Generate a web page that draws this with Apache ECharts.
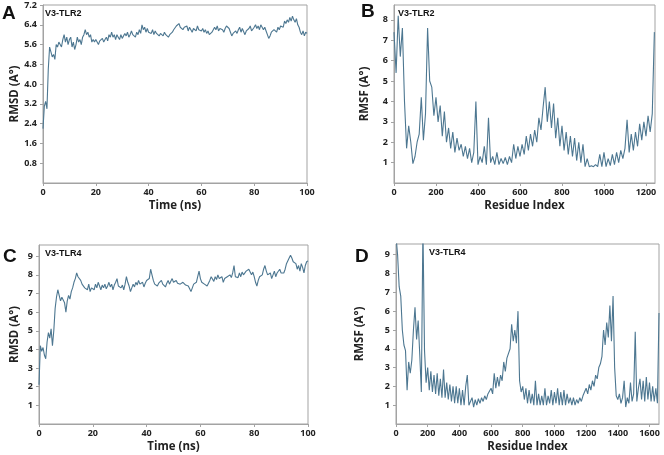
<!DOCTYPE html>
<html>
<head>
<meta charset="utf-8">
<script src="https://cdn.jsdelivr.net/npm/echarts@6/dist/echarts.min.js"></script>
<style>
  html, body { margin: 0; padding: 0; background: #fff; }
  #chart { width: 664px; height: 455px; }
</style>
</head>
<body>
<div id="chart"></div>
<script>
// RMSD time axis: one sample every 0.5 ns, 0..100 ns
var TIME_STEP = 0.5;
// RMSF residue axis: one sample every 10 residues
var RES_STEP = 10;

// A: V3-TLR2 RMSD (Å)
var rmsdTlr2 = [
  2.2, 3.1, 3.3, 3.0, 4.6, 5.5, 5.3, 5.1, 5.2, 5.0, 5.6, 5.5, 5.7, 5.6, 5.5, 5.8, 6.0, 5.7, 5.9, 5.6, 5.8,
  5.9, 5.5, 5.7, 5.4, 5.6, 5.9, 5.7, 5.8, 5.6, 5.9, 6.0, 6.2, 6.0, 6.1, 5.9, 6.0, 5.7, 5.8, 5.7, 5.8,
  5.8, 5.6, 5.75, 5.7, 5.85, 5.7, 5.8, 5.9, 5.75, 6.0, 5.9, 6.1, 5.9, 6.0, 5.8, 6.0, 5.9, 5.8, 6.0, 5.85,
  5.9, 6.05, 5.95, 6.1, 5.9, 6.0, 6.15, 6.0, 6.05, 5.9, 6.1, 6.0, 6.2, 6.05, 6.4, 6.2, 6.3, 6.1, 6.25, 6.1,
  6.15, 6.05, 6.2, 6.0, 6.15, 6.05, 6.1, 5.95, 6.05, 6.1, 5.95, 6.1, 6.0, 6.05, 5.9, 6.0, 5.95, 6.1, 6.2, 6.25,
  6.35, 6.3, 6.45, 6.3, 6.35, 6.2, 6.3, 6.25, 6.35, 6.15, 6.3, 6.2, 6.1, 6.25, 6.3, 6.15, 6.35, 6.2, 6.25, 6.15,
  6.25, 6.1, 6.2, 6.05, 6.15, 6.0, 5.95, 6.1, 6.15, 6.3, 6.2, 6.35, 6.15, 6.25, 6.3, 6.2, 6.1, 6.25, 6.35, 6.4,
  6.25, 6.1, 5.95, 6.05, 6.0, 6.15, 6.05, 6.2, 6.3, 6.1, 6.25, 6.2, 6.0, 6.15, 6.1, 6.25, 6.35, 6.15, 6.2, 6.3,
  6.4, 6.25, 6.35, 6.2, 6.4, 6.3, 6.2, 6.3, 6.15, 6.0, 5.85, 5.95, 6.1, 6.05, 6.2, 6.25, 6.1, 6.3, 6.2, 6.35,
  6.4, 6.3, 6.55, 6.45, 6.6, 6.5, 6.7, 6.55, 6.75, 6.6, 6.5, 6.65, 6.4, 6.3, 6.1, 6.0, 6.15, 5.95, 6.1, 6.05
];

// C: V3-TLR4 RMSD (Å)
var rmsdTlr4 = [
  2.1, 4.2, 3.9, 4.1, 3.7, 3.5, 4.4, 4.9, 4.6, 5.1, 4.2, 5.0, 6.2, 6.8, 7.2, 6.9, 6.6, 6.8, 6.7, 6.5, 6.0,
  6.6, 6.9, 6.7, 7.1, 7.3, 7.6, 7.8, 8.1, 7.9, 8.0, 7.7, 7.5, 7.6, 7.3, 7.4, 7.2, 7.5, 7.1, 7.3, 7.4,
  7.2, 7.5, 7.3, 7.6, 7.4, 7.2, 7.45, 7.3, 7.5, 7.25, 7.4, 7.6, 7.35, 7.5, 7.2, 7.45, 7.6, 7.8, 7.4, 7.5,
  7.3, 7.45, 7.2, 7.5, 7.9, 7.6, 7.4, 7.1, 7.3, 7.5, 7.35, 7.6, 7.45, 7.7, 7.5, 7.4, 7.6, 7.35, 7.55, 7.7,
  7.6, 7.8, 8.3, 8.0, 7.7, 7.5, 7.6, 7.4, 7.55, 7.45, 7.7, 7.5, 7.6, 7.35, 7.55, 7.7, 7.5, 7.65, 7.8, 7.6,
  7.5, 7.7, 7.55, 7.65, 7.5, 7.4, 7.6, 7.7, 7.45, 7.5, 7.4, 7.25, 7.1, 7.3, 7.5, 7.45, 7.6, 7.9, 8.2, 7.8,
  7.6, 7.7, 7.5, 7.6, 7.4, 7.55, 7.7, 7.9, 7.8, 7.65, 7.9, 7.75, 8.0, 7.8, 7.7, 7.9, 7.6, 7.8, 7.7, 7.9,
  7.8, 8.0, 7.85, 8.1, 8.5, 7.9, 8.0, 7.85, 8.1, 7.9, 8.15, 8.0, 7.9, 8.2, 8.1, 8.3, 8.2, 8.0, 8.15, 7.9,
  7.6, 7.4, 7.7, 7.9, 7.8, 8.0, 8.3, 8.5, 8.2, 8.0, 7.9, 8.1, 7.8, 8.0, 8.2, 7.9, 8.1, 8.0, 8.3, 8.1,
  8.2, 8.1, 8.3, 8.6, 8.5, 8.9, 9.05, 8.9, 8.7, 8.8, 8.6, 8.3, 8.5, 8.2, 8.6, 8.4, 8.1, 8.5, 8.7, 8.75
];

// B: V3-TLR2 RMSF (Å), residues 0..1240
var rmsfTlr2 = [
  7.4, 5.4, 8.2, 6.2, 7.6, 4.0, 1.7, 2.8, 2.0, 0.95,
  1.3, 2.0, 2.4, 4.2, 2.1, 3.4, 7.6, 5.0, 4.7, 3.3,
  4.2, 3.0, 3.8, 2.3, 3.5, 2.0, 2.7, 1.7, 2.5, 1.5,
  2.2, 1.6, 1.9, 1.3, 1.8, 1.2, 1.7, 1.0, 1.5, 4.0,
  0.9, 1.3, 1.0, 1.8, 0.9, 3.2, 1.0, 1.3, 0.9, 1.5,
  0.9, 1.2, 0.95, 1.25, 0.9, 1.3, 1.0, 1.9, 1.2, 1.8,
  1.3, 1.9, 1.4, 2.3, 1.6, 2.4, 1.8, 2.6, 2.0, 3.2,
  2.6, 3.7, 4.7, 3.0, 4.0, 2.7, 3.9, 2.2, 3.2, 1.8,
  2.8, 1.6, 2.5, 1.4, 2.3, 1.3, 2.2, 1.1, 2.0, 1.0,
  1.9, 0.8, 1.2, 0.8, 0.85, 0.8, 0.9, 0.8, 1.4, 0.8,
  1.5, 0.8, 1.2, 0.85, 1.4, 0.9, 1.5, 1.0, 1.6, 1.2,
  1.7, 3.1, 1.5, 2.4, 1.6, 2.5, 1.8, 2.9, 2.1, 3.0,
  2.3, 3.3, 2.5, 3.4, 7.4
];

// D: V3-TLR4 RMSF (Å), residues 0..1660
var rmsfTlr4 = [
  10.0, 9.0, 7.3, 6.8, 5.0, 4.2, 3.9, 1.8, 3.3, 2.7,
  3.4, 5.0, 6.2, 4.5, 5.5, 3.7, 1.7, 10.5, 3.9, 2.2,
  3.0, 1.8, 2.8, 1.7, 2.6, 1.6, 2.7, 1.5, 2.4, 1.4,
  2.9, 1.4, 2.2, 1.3, 2.1, 1.2, 2.0, 1.1, 2.0, 1.1,
  1.9, 1.0, 1.8, 1.0, 2.0, 2.6, 1.0, 0.9, 1.4, 0.9,
  1.3, 1.0, 1.35, 1.1, 1.4, 1.2, 1.5, 1.3, 1.6, 1.5,
  1.9, 1.6, 2.7, 1.9, 2.5, 2.0, 2.6, 2.3, 3.3, 2.8,
  3.5, 3.6, 4.0, 5.3, 4.4, 5.0, 4.3, 6.0, 2.3, 1.7,
  2.0, 1.3, 1.9, 1.1, 1.8, 1.1, 1.6, 1.0, 2.3, 1.0,
  1.6, 1.0, 1.5, 1.0, 1.9, 1.0, 1.5, 1.1, 1.8, 1.0,
  1.7, 1.1, 1.9, 1.0, 1.7, 1.0, 1.8, 1.0, 1.6, 1.1,
  1.4, 1.0, 1.4, 1.0, 1.3, 1.1, 1.4, 1.2, 1.5, 1.4,
  1.9, 1.6, 2.1, 1.8, 2.3, 2.0, 2.6, 2.4, 3.0, 3.2,
  3.6, 5.0, 4.2, 5.4, 4.6, 6.3, 4.4, 6.8, 3.0, 1.5,
  1.3, 1.6, 1.1, 1.4, 2.3, 0.9, 1.4, 1.1, 2.2, 1.2,
  1.6, 4.9, 1.2, 1.9, 2.4, 1.3, 2.3, 1.2, 2.5, 1.3,
  2.2, 1.2, 2.0, 1.2, 1.9, 1.1, 5.9
];

var timeTicks = [0, 20, 40, 60, 80, 100];
var rmsdTlr2Ticks = [0.8, 1.6, 2.4, 3.2, 4.0, 4.8, 5.6, 6.4, 7.2];
var rmsdTlr4Ticks = [1, 2, 3, 4, 5, 6, 7, 8, 9];
var resTlr2Ticks = [0, 200, 400, 600, 800, 1000, 1200];
var resTlr4Ticks = [0, 200, 400, 600, 800, 1000, 1200, 1400, 1600];
var rmsfTlr2Ticks = [1, 2, 3, 4, 5, 6, 7, 8];
var rmsfTlr4Ticks = [1, 2, 3, 4, 5, 6, 7, 8, 9];

function pairs(values, step) {
  return values.map(function (v, i) { return [i * step, v]; });
}

var LINE = '#4d7791';
var FRAME = '#a3a3a3';
var FONT = '"Open Sans", "Liberation Sans", sans-serif';

function xAx(idx, max, ticks, name) {
  return {
    type: 'value', gridIndex: idx, min: 0, max: max,
    name: name, nameLocation: 'middle', nameGap: 17,
    nameTextStyle: { fontFamily: FONT, fontWeight: 'bold', fontSize: 11.5, color: '#222' },
    axisLine: { show: true, lineStyle: { color: FRAME, width: 1 } },
    axisTick: { show: true, length: 3, customValues: ticks, lineStyle: { color: FRAME } },
    axisLabel: {
      customValues: ticks, margin: 5, fontFamily: FONT, fontWeight: 'bold', fontSize: 9, color: '#222',
      formatter: function (v) { return String(v); }
    },
    splitLine: { show: false }
  };
}

function yAx(idx, max, ticks, name, gap, dec) {
  return {
    type: 'value', gridIndex: idx, min: 0, max: max,
    name: name, nameLocation: 'middle', nameGap: gap,
    nameTextStyle: { fontFamily: FONT, fontWeight: 'bold', fontSize: 11.5, color: '#222' },
    axisLine: { show: true, lineStyle: { color: FRAME, width: 1 } },
    axisTick: { show: true, length: 3, customValues: ticks, lineStyle: { color: FRAME } },
    axisLabel: {
      customValues: ticks, margin: 6, fontFamily: FONT, fontWeight: 'bold', fontSize: 9, color: '#222',
      formatter: function (v) { return dec ? v.toFixed(1) : String(v); }
    },
    splitLine: { show: false }
  };
}

function lineSeries(idx, data) {
  return {
    type: 'line', xAxisIndex: idx, yAxisIndex: idx, data: data,
    showSymbol: false, symbol: 'none', clip: true,
    lineStyle: { color: LINE, width: 1.1 }
  };
}

function txt(x, y, s, size) {
  return {
    type: 'text', left: x, top: y,
    style: { text: s, fontFamily: '"Liberation Sans", Arial, sans-serif', fontWeight: 'bold', fontSize: size, fill: '#111' }
  };
}

var chart = echarts.init(document.getElementById('chart'), null, { renderer: 'canvas' });

chart.setOption({
  animation: false,
  backgroundColor: '#fff',
  grid: [
    { left: 43, top: 5, width: 264, height: 178, show: true, borderColor: FRAME, borderWidth: 1 },
    { left: 394, top: 5, width: 261, height: 178, show: true, borderColor: FRAME, borderWidth: 1 },
    { left: 39, top: 245, width: 269, height: 179, show: true, borderColor: FRAME, borderWidth: 1 },
    { left: 396, top: 244, width: 263, height: 180, show: true, borderColor: FRAME, borderWidth: 1 }
  ],
  xAxis: [
    xAx(0, 100, timeTicks, 'Time (ns)'),
    xAx(1, 1243, resTlr2Ticks, 'Residue Index'),
    xAx(2, 100, timeTicks, 'Time (ns)'),
    xAx(3, 1660, resTlr4Ticks, 'Residue Index')
  ],
  yAxis: [
    yAx(0, 7.2, rmsdTlr2Ticks, 'RMSD (A°)', 22, true),
    yAx(1, 8.73, rmsfTlr2Ticks, 'RMSF (A°)', 23, false),
    yAx(2, 9.6, rmsdTlr4Ticks, 'RMSD (A°)', 18, false),
    yAx(3, 9.57, rmsfTlr4Ticks, 'RMSF (A°)', 30, false)
  ],
  series: [
    lineSeries(0, pairs(rmsdTlr2, TIME_STEP)),
    lineSeries(1, pairs(rmsfTlr2, RES_STEP)),
    lineSeries(2, pairs(rmsdTlr4, TIME_STEP)),
    lineSeries(3, pairs(rmsfTlr4, RES_STEP))
  ],
  graphic: [
    txt(2, 4, 'A', 19),
    txt(361, 2, 'B', 19),
    txt(3, 247, 'C', 19),
    txt(355, 247, 'D', 19),
    txt(45, 9, 'V3-TLR2', 9),
    txt(398, 9, 'V3-TLR2', 9),
    txt(45, 249, 'V3-TLR4', 9),
    txt(429, 248, 'V3-TLR4', 9)
  ]
});
</script>
</body>
</html>
